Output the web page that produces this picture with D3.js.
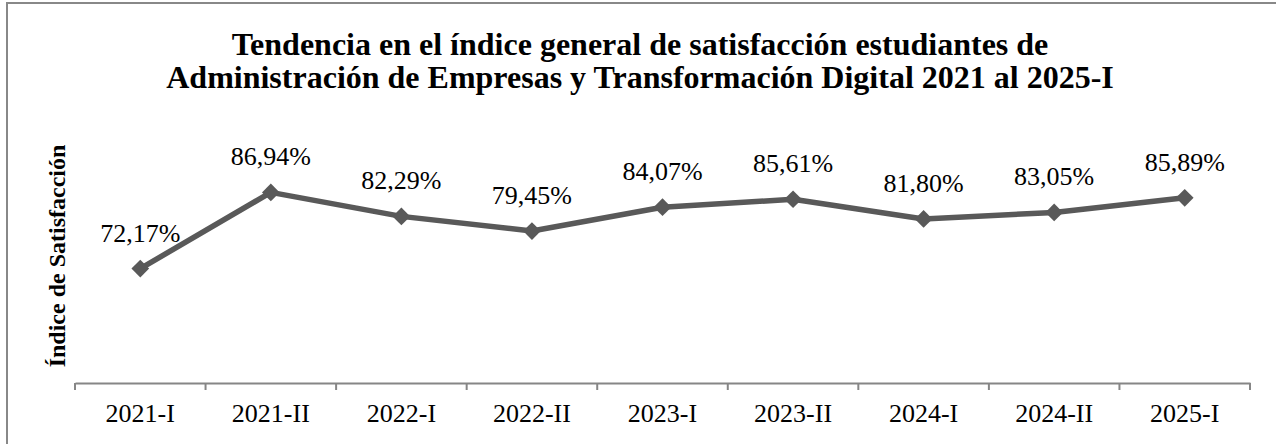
<!DOCTYPE html>
<html>
<head>
<meta charset="utf-8">
<script src="https://cdn.jsdelivr.net/npm/d3@7"></script>
<style>
  body { margin: 0; background: #fff; }
  svg { display: block; }
  svg text { font-family: "Liberation Serif", "Times New Roman", serif; }
</style>
</head>
<body>
<svg id="chart"></svg>
<script>
// datos del gráfico
const periods = ["2021-I", "2021-II", "2022-I", "2022-II", "2023-I", "2023-II", "2024-I", "2024-II", "2025-I"];
const satisfaction = [72.17, 86.94, 82.29, 79.45, 84.07, 85.61, 81.80, 83.05, 85.89];
const titleLines = [
  "Tendencia en el índice general de satisfacción estudiantes de",
  "Administración de Empresas y Transformación Digital 2021 al 2025-I"
];
const yTitle = "Índice de Satisfacción";
const yDomain = [50, 100];

const width = 1276, height = 444;
const FONT = "Liberation Serif, Times New Roman, serif";
const svg = d3.select("#chart").attr("width", width).attr("height", height);

// marco (solo izquierda y arriba visibles)
svg.append("rect")
   .attr("x", 7).attr("y", 3)
   .attr("width", width + 20).attr("height", height + 20)
   .attr("fill", "#fff")
   .attr("stroke", "#888").attr("stroke-width", 2);

const x = d3.scaleBand(periods, [75, 1250]);
const y = d3.scaleLinear(yDomain, [383, 125]);

// título
svg.append("g")
   .selectAll("text")
   .data(titleLines)
   .join("text")
   .attr("x", 640)
   .attr("y", (d, i) => 55 + i * 33)
   .attr("text-anchor", "middle")
   .attr("font-family", FONT)
   .attr("font-size", 32)
   .attr("font-weight", "bold")
   .text(d => d);

// título eje y
svg.append("text")
   .attr("transform", `translate(65, 256) rotate(-90)`)
   .attr("text-anchor", "middle")
   .attr("font-family", FONT)
   .attr("font-size", 24)
   .attr("font-weight", "bold")
   .text(yTitle);

// eje x
const xAxis = d3.axisBottom(x).tickSize(0).tickSizeOuter(0);
const gx = svg.append("g")
   .attr("transform", "translate(0, 383)")
   .call(xAxis);
gx.select(".domain").attr("stroke", "#868686").attr("stroke-width", 2);
gx.selectAll(".tick text")
  .attr("y", 39)
  .attr("dy", null)
  .attr("font-size", 26)
  .attr("font-family", FONT)
  .attr("fill", "#000");
// marcas entre categorías
const bounds = periods.map(p => x(p)).concat([x.range()[1]]);
gx.selectAll(".sep")
  .data(bounds)
  .join("line")
  .attr("class", "sep")
  .attr("x1", d => d).attr("x2", d => d)
  .attr("y1", 0).attr("y2", 7)
  .attr("stroke", "#868686").attr("stroke-width", 2);

const cx = d => x(d) + x.bandwidth() / 2;

// línea
const line = d3.line()
  .x((d, i) => cx(periods[i]))
  .y(d => y(d));

svg.append("path")
   .datum(satisfaction)
   .attr("fill", "none")
   .attr("stroke", "#595959")
   .attr("stroke-width", 5.5)
   .attr("stroke-linejoin", "round")
   .attr("d", line);

// marcadores rombo
svg.append("g")
   .selectAll("path")
   .data(satisfaction)
   .join("path")
   .attr("transform", (d, i) => `translate(${cx(periods[i])}, ${y(d)})`)
   .attr("d", d3.symbol(d3.symbolDiamond2, 200)())
   .attr("fill", "#595959");

// etiquetas de datos
const fmt = v => v.toFixed(2).replace(".", ",") + "%";
svg.append("g")
   .selectAll("text")
   .data(satisfaction)
   .join("text")
   .attr("x", (d, i) => cx(periods[i]))
   .attr("y", d => y(d) - 27)
   .attr("text-anchor", "middle")
   .attr("font-family", FONT)
   .attr("font-size", 26)
   .text(fmt);
</script>
</body>
</html>
